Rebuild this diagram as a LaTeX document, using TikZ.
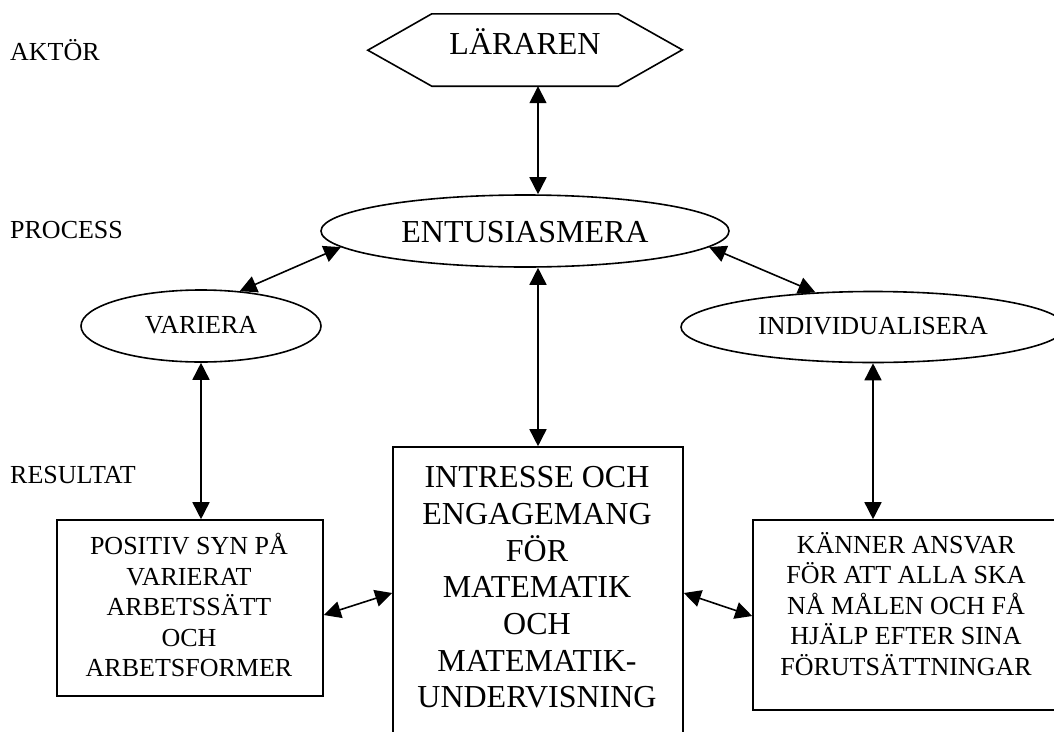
\documentclass[tikz,border=0pt]{standalone}
\usepackage{fontspec}
\setmainfont{Liberation Serif}
\usetikzlibrary{arrows.meta,shapes.geometric}
\begin{document}
\begin{tikzpicture}[x=1pt,y=-1pt,
  lw/.style={line width=1.6pt},
  small/.style={font=\fontsize{26}{30.5}\selectfont},
  big/.style={font=\fontsize{32}{36.7}\selectfont},
  ell/.style={draw, line width=1.6pt, ellipse, inner sep=0pt},
  box/.style={draw, line width=1.6pt, rectangle, inner sep=0pt},
  txt/.style={align=center, inner sep=0pt},
  lab/.style={small, anchor=base west, inner sep=0pt},
  link/.style={line width=1.6pt, {Triangle[length=17pt,width=17pt]}-{Triangle[length=17pt,width=17pt]}}
]
\useasboundingbox (0,0) rectangle (1054,731);
\clip (0,0) rectangle (1054,731);
\fill[white] (0,0) rectangle (1054,731);

% row labels
\node[lab] (akt) at (10,60) {AKTÖR};
\node[lab] (proc) at (10,238) {PROCESS};
\node[lab] (res) at (10,483) {RESULTAT};

% actor hexagon
\node[big, minimum width=186pt, minimum height=72pt, inner sep=0pt,
      text height=22pt, text depth=14pt] (lar) at (525,50) {LÄRAREN};
\draw[lw, line join=miter] (lar.north west) -- (lar.north east) -- ++(64,36)
  -- (lar.south east) -- (lar.south west) -- ++(-64,-36) -- cycle;

% process ellipses
\node[ell, big, minimum width=408pt, minimum height=72pt,
      text height=23pt, text depth=1pt] (ent) at (525,231) {ENTUSIASMERA};
\node[ell, small, minimum width=240pt, minimum height=72pt,
      text height=18pt, text depth=4pt] (var) at (201,326) {VARIERA};
\node[ell, small, minimum width=384pt, minimum height=71pt,
      text height=18pt, text depth=4pt] (ind) at (873,327) {INDIVIDUALISERA};

% result boxes
\node[box, minimum width=266pt, minimum height=176pt] (lbox) at (190,608) {};
\node[txt, small] (ltxt) at (189,605)
  {POSITIV SYN PÅ\\VARIERAT\\ARBETSSÄTT\\OCH\\ARBETSFORMER};
\node[box, minimum width=290pt, minimum height=320pt] (cbox) at (538,607) {};
\node[txt, big] (ctxt) at (537,587.5)
  {INTRESSE OCH\\ENGAGEMANG\\FÖR\\MATEMATIK\\OCH\\MATEMATIK-\\UNDERVISNING};
\node[box, minimum width=306pt, minimum height=190pt] (rbox) at (906,615) {};
\node[txt, small] (rtxt) at (906,604)
  {KÄNNER ANSVAR\\FÖR ATT ALLA SKA\\NÅ MÅLEN OCH FÅ\\HJÄLP EFTER SINA\\FÖRUTSÄTTNINGAR};

% connectors
\draw[link] (cbox.north |- lar.south) -- (cbox.north |- ent.north);
\draw[link] (cbox.north |- ent.south) -- (cbox.north);
\draw[link] (var.42.6) -- (ent.185);
\draw[link] (ent.-5) -- (ind.149.4);
\draw[link] (var.south) -- (var.south |- lbox.north);
\draw[link] (ind.south) -- (ind.south |- rbox.north);
\draw[link] ([yshift=-7pt]lbox.east) -- ([yshift=14pt]cbox.west);
\draw[link] ([yshift=14pt]cbox.east) -- ([yshift=-1pt]rbox.west);
\end{tikzpicture}
\end{document}
